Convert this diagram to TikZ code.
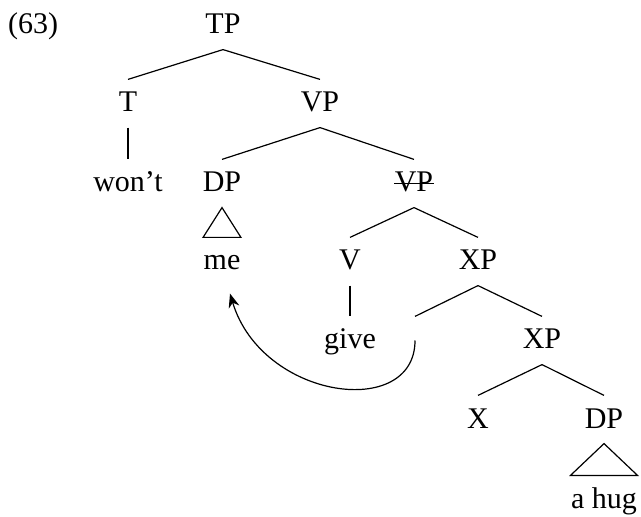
\documentclass[tikz,border=0pt]{standalone}
\usepackage{fontspec}
\setmainfont{Liberation Serif}
\usetikzlibrary{arrows.meta}
\begin{document}
\begin{tikzpicture}[x=0.5pt,y=0.5pt,line width=0.6pt]
    \tikzstyle{cat} = [anchor=base,inner xsep=0pt,inner ysep=7.5pt,text height=8.5pt,text depth=0pt,font=\fontsize{15}{18}\selectfont]
        \useasboundingbox (0,0) rectangle (641,-517);
        \node[cat] (ex) at (33,-34) {(63)};
        \node[cat] (tp) at (223,-34) {TP};
        \node[cat] (t) at (128,-112) {T};
        \node[cat] (vp) at (320,-112) {VP};
        \node[cat] (wont) at (128,-192) {won't};
        \node[cat] (dp) at (222,-192) {DP};
        \node[cat] (vps) at (414,-192) {VP};
        \node[cat] (me) at (222,-270) {me};
        \node[cat] (v) at (350,-270) {V};
        \node[cat] (xp) at (478,-270) {XP};
        \node[cat] (give) at (350,-349) {give};
        \node[cat] (e) at (415,-349) {};
        \node[cat] (xpb) at (542,-349) {XP};
        \node[cat] (x) at (478,-428) {X};
        \node[cat] (dpb) at (604,-428) {DP};
        \node[cat] (hug) at (604,-508) {a hug};
        \draw (tp.south) -- (t.north);
        \draw (tp.south) -- (vp.north);
        \draw (t.south) -- (wont.north);
        \draw (vp.south) -- (dp.north);
        \draw (vp.south) -- (vps.north);
        \draw (dp.south) -- (me.north west) -- (me.north east) -- cycle;
        \draw ([yshift=4.25pt]vps.base west) -- ([yshift=4.25pt]vps.base east);
        \draw (vps.south) -- (v.north);
        \draw (vps.south) -- (xp.north);
        \draw (v.south) -- (give.north);
        \draw (xp.south) -- (e.north);
        \draw (xp.south) -- (xpb.north);
        \draw (xpb.south) -- (x.north);
        \draw (xpb.south) -- (dpb.north);
        \draw (dpb.south) -- (hug.north west) -- (hug.north east) -- cycle;
        \draw[-{Stealth[length=7pt,width=5.5pt]}] (e.center) .. controls (415,-420) and (262,-400) .. ([xshift=4pt,yshift=-4pt]me.south);
    \end{tikzpicture}
\end{document}
